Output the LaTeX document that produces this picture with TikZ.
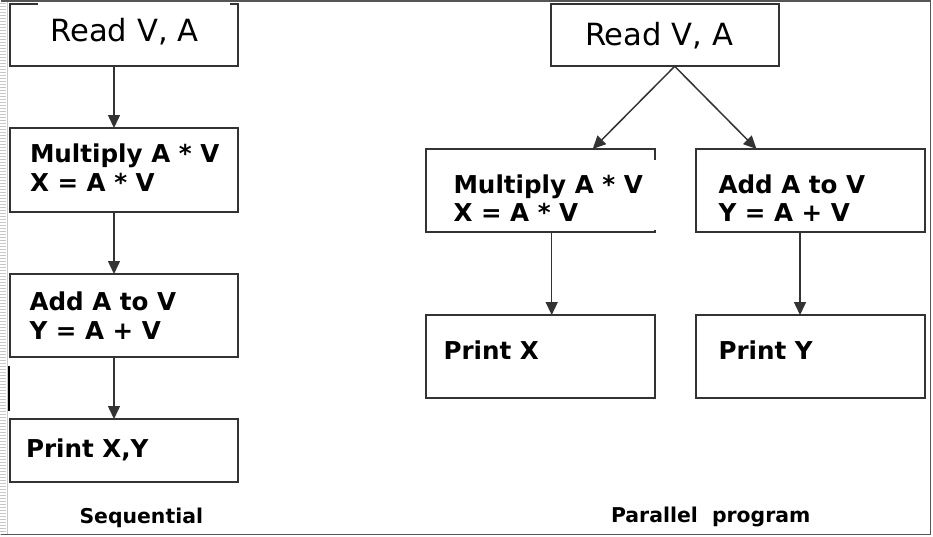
\documentclass[tikz,border=0pt]{standalone}
\usepackage{fontspec}
\setmainfont{DejaVu Sans}
\usetikzlibrary{arrows.meta}
\definecolor{boxgray}{HTML}{333333}
\definecolor{framegray}{HTML}{555555}
\definecolor{rulergray}{HTML}{C8C8C8}
\begin{document}
\begin{tikzpicture}[x=1pt,y=-1pt,
  box/.style={draw=boxgray,line width=1.8pt,rectangle,inner sep=0pt,outer sep=0pt,anchor=north west,fill=white},
  txt/.style={anchor=base west,inner sep=0pt,outer sep=0pt,font=\fontsize{24.6}{29}\selectfont\bfseries},
  big/.style={anchor=base west,inner sep=0pt,outer sep=0pt,font=\fontsize{30.6}{36}\selectfont},
  lab/.style={anchor=base west,inner sep=0pt,outer sep=0pt,font=\fontsize{20.4}{24}\selectfont\bfseries},
  arr/.style={draw=boxgray,line width=1.5pt,-{Triangle[length=13pt,width=12pt]}}]
\useasboundingbox (0,0) rectangle (933,536);
\fill[white] (0,0) rectangle (933,536);
% ruler at left edge
\foreach \y in {3,6,...,534} \draw[rulergray,line width=0.6pt] (0,\y) -- (6,\y);
\draw[rulergray,line width=0.8pt] (7.3,2) -- (7.3,534);
% outer frame
\draw[framegray,line width=1.5pt] (0.5,1) -- (930.5,1) -- (930.5,534.5) -- (0.5,534.5);
% left bar
\draw[black,line width=2pt] (9.3,366) -- (9.3,411);

% sequential boxes
\node[box,minimum width=228pt,minimum height=62pt] (r1) at (10,4) {};
\node[box,minimum width=228pt,minimum height=84pt] (m1) at (10,128) {};
\node[box,minimum width=228pt,minimum height=83pt] (a1) at (10,274) {};
\node[box,minimum width=228pt,minimum height=63pt] (p1) at (10,419) {};
% parallel boxes
\node[box,minimum width=228pt,minimum height=62pt] (r2) at (550.7,4.3) {};
\node[box,minimum width=229pt,minimum height=83pt] (m2) at (425.7,149) {};
\node[box,minimum width=229pt,minimum height=83pt] (a2) at (696,149) {};
\node[box,minimum width=229pt,minimum height=83pt] (px) at (425.7,315) {};
\node[box,minimum width=229pt,minimum height=83pt] (py) at (696,315) {};

% white patches behind texts
\fill[white] (38,2.6) rectangle (230,53);
\fill[white] (441,160) rectangle (657,230);

% texts
\node[big] (tr1) at (50.5,41.7) {Read V, A};
\node[txt] (tm1a) at (30,162) {Multiply A * V};
\node[txt] (tm1b) at (30,191) {X = A * V};
\node[txt] (ta1a) at (29.5,310) {Add A to V};
\node[txt] (ta1b) at (29.5,339) {Y = A + V};
\node[txt] (tp1) at (26,457) {Print X,Y};
\node[lab] (lseq) at (79.5,523) {Sequential};

\node[big] (tr2) at (585,45.7) {Read V, A};
\node[txt] (tm2a) at (453.5,193.3) {Multiply A * V};
\node[txt] (tm2b) at (453.5,221.7) {X = A * V};
\node[txt] (ta2a) at (718.5,193.3) {Add A to V};
\node[txt] (ta2b) at (718.5,221.7) {Y = A + V};
\node[txt] (tpx) at (443.5,359) {Print X};
\node[txt] (tpy) at (718.5,359) {Print Y};
\node[lab] (lpar) at (611,522) {Parallel\ \ program};

% connectors
\draw[arr] ([xshift=-10pt]r1.south) -- ([xshift=-10pt]m1.north);
\draw[arr] ([xshift=-10pt]m1.south) -- ([xshift=-10pt]a1.north);
\draw[arr] ([xshift=-10pt]a1.south) -- ([xshift=-10pt]p1.north);
\draw[arr] ([xshift=10pt]r2.south) -- ([xshift=52.5pt]m2.north);
\draw[arr] ([xshift=10pt]r2.south) -- ([xshift=-54pt]a2.north);
\draw[arr] ([xshift=11.5pt]m2.south) -- ([xshift=11.5pt]px.north);
\draw[arr] ([xshift=-10.5pt]a2.south) -- ([xshift=-10.5pt]py.north);
\end{tikzpicture}
\end{document}
